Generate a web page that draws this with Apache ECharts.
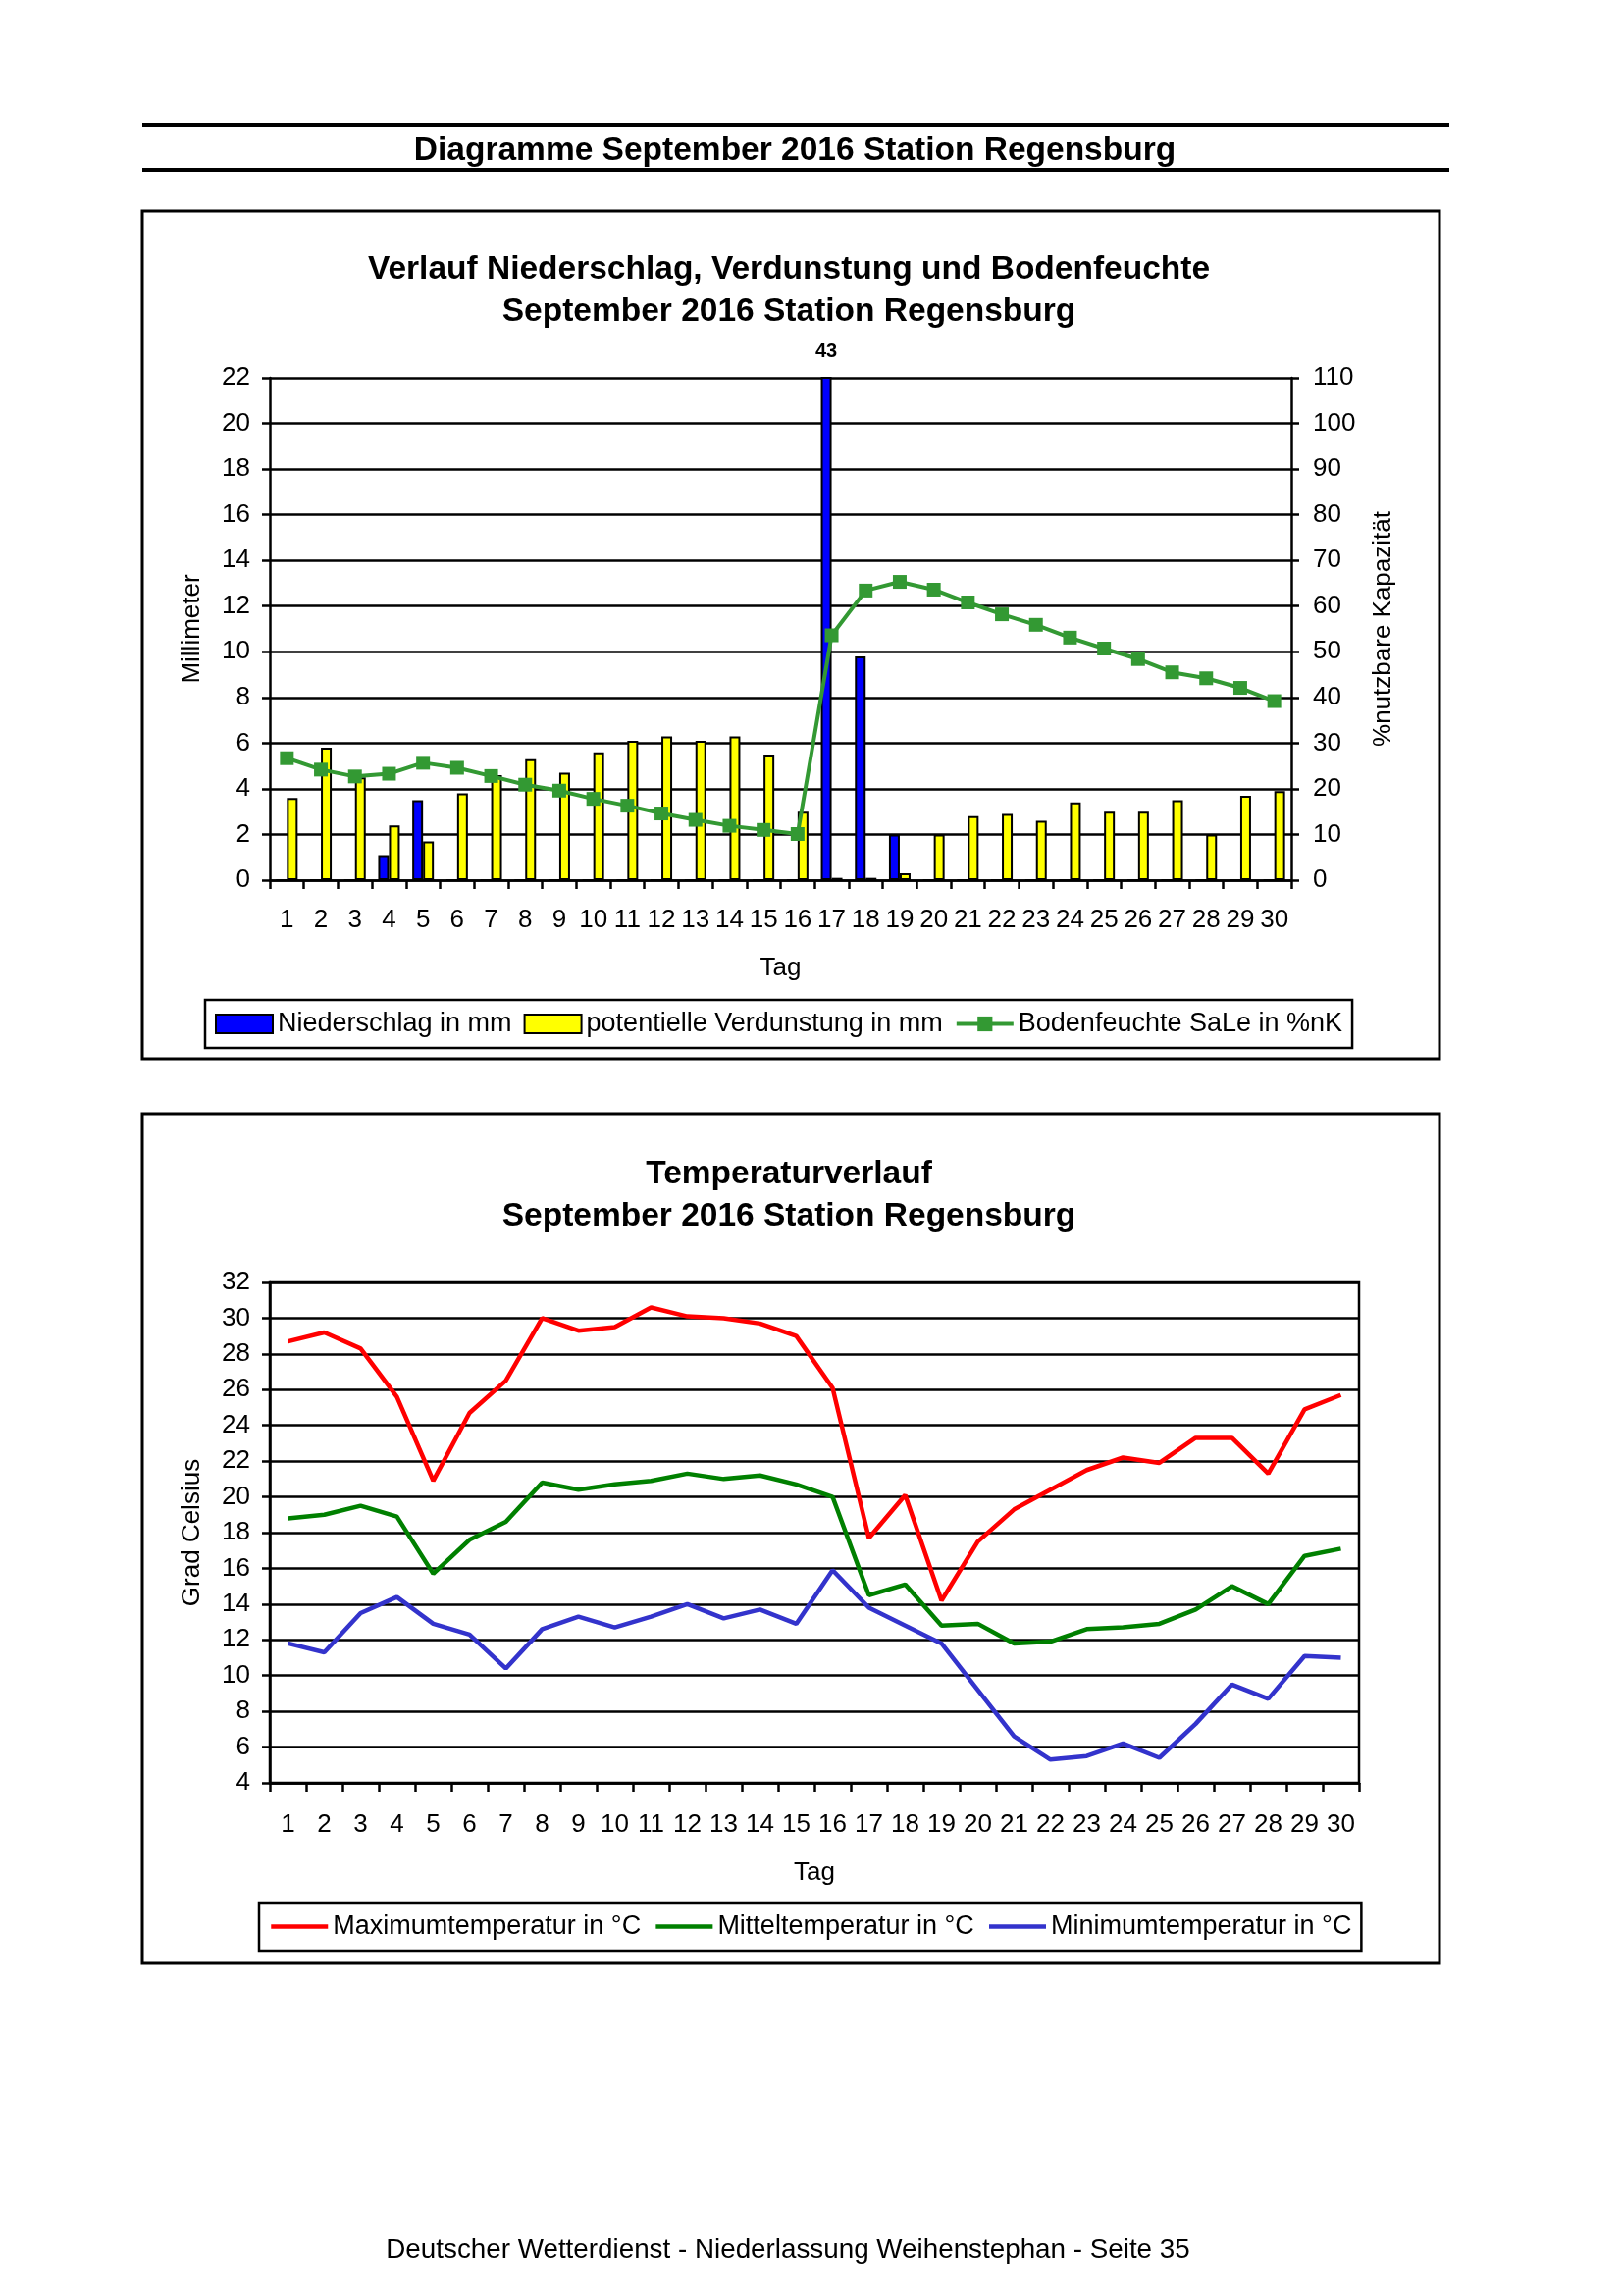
<!DOCTYPE html>
<html><head><meta charset="utf-8">
<script src="https://cdn.jsdelivr.net/npm/echarts@6/dist/echarts.min.js"></script>
<style>html,body{margin:0;padding:0;background:#fff}#c{width:1653px;height:2340px}</style>
</head><body><div id="c"></div>
<script>
const days = ['1','2','3','4','5','6','7','8','9','10','11','12','13','14','15','16','17','18','19','20','21','22','23','24','25','26','27','28','29','30'];
const precip = [0,0,0,1.1,3.5,0,0,0,0,0,0,0,0,0,0,0,43,9.8,2.0,0,0,0,0,0,0,0,0,0,0,0];
const evap = [3.6,5.8,4.5,2.4,1.7,3.8,4.6,5.3,4.7,5.6,6.1,6.3,6.1,6.3,5.5,3.0,0.1,0.1,0.3,2.0,2.8,2.9,2.6,3.4,3.0,3.0,3.5,2.0,3.7,3.9];
const soil = [26.7,24.2,22.7,23.3,25.7,24.6,22.8,20.9,19.6,17.8,16.3,14.6,13.2,11.9,11.0,10.1,53.6,63.4,65.3,63.6,60.8,58.2,55.9,53.1,50.7,48.4,45.5,44.2,42.1,39.2];
const tMax = [28.7,29.2,28.3,25.6,20.9,24.7,26.5,30.0,29.3,29.5,30.6,30.1,30.0,29.7,29.0,26.1,17.7,20.1,14.2,17.5,19.3,20.4,21.5,22.2,21.9,23.3,23.3,21.3,24.9,25.7];
const tMean = [18.8,19.0,19.5,18.9,15.7,17.6,18.6,20.8,20.4,20.7,20.9,21.3,21.0,21.2,20.7,20.0,14.5,15.1,12.8,12.9,11.8,11.9,12.6,12.7,12.9,13.7,15.0,14.0,16.7,17.1];
const tMin = [11.8,11.3,13.5,14.4,12.9,12.3,10.4,12.6,13.3,12.7,13.3,14.0,13.2,13.7,12.9,15.9,13.8,12.8,11.8,9.2,6.6,5.3,5.5,6.2,5.4,7.3,9.5,8.7,11.1,11.0];

const FF = "'Liberation Sans', Arial, sans-serif";
const txt = {color:'#000', fontFamily:FF, fontSize:26};
const chart = echarts.init(document.getElementById('c'), null, {renderer:'canvas'});

function gtext(text, x, y, size, bold){
  return {type:'text', style:{text, x, y, textAlign:'center', textVerticalAlign:'middle',
    font:(bold?'bold ':'')+size+'px '+FF, fill:'#000'}};
}
function gline(x1,y1,x2,y2,w){
  return {type:'line', shape:{x1,y1,x2,y2}, style:{stroke:'#000', lineWidth:w}};
}
function grect(x,y,w,h){
  return {type:'rect', shape:{x,y,width:w,height:h}, style:{fill:null, stroke:'#000', lineWidth:3}};
}
const precipMax = Math.max(...precip);
const axisLine = {show:true, lineStyle:{color:'#000', width:2.5}};
const tick = {show:true, length:8, lineStyle:{color:'#000', width:2.5}};
const split = {lineStyle:{color:'#000', width:2.5}};

const option = {
  animation:false,
  backgroundColor:'#fff',
  textStyle:{fontFamily:FF},
  graphic:[
    gline(145,127,1477,127,4),
    gline(145,173,1477,173,4),
    gtext('Diagramme September 2016 Station Regensburg',810,154,33.5,true),
    grect(145,215,1322,864),
    gtext('Verlauf Niederschlag, Verdunstung und Bodenfeuchte',804,275,33.5,true),
    gtext('September 2016 Station Regensburg',804,318,33.5,true),
    grect(145,1135,1322,866),
    gtext('Temperaturverlauf',804,1197,33.5,true),
    gtext('September 2016 Station Regensburg',804,1240,33.5,true),
    gtext('Deutscher Wetterdienst - Niederlassung Weihenstephan - Seite 35',803,2293,27.8,false)
  ],
  legend:[
    {left:209, top:1019, orient:'horizontal', itemWidth:58, itemHeight:19, itemGap:12,
     padding:[11,10], borderColor:'#000', borderWidth:2.5, textStyle:Object.assign({},txt,{fontSize:27}),
     lineStyle:{width:4},
     data:[{name:'Niederschlag in mm', icon:'rect'},{name:'potentielle Verdunstung in mm', icon:'rect'},'Bodenfeuchte SaLe in %nK']},
    {left:264, top:1939, orient:'horizontal', itemWidth:58, itemHeight:18, itemGap:13,
     padding:[11,10], borderColor:'#000', borderWidth:2.5, textStyle:Object.assign({},txt,{fontSize:27}),
     itemStyle:{opacity:0}, lineStyle:{width:4.5},
     data:['Maximumtemperatur in °C','Mitteltemperatur in °C','Minimumtemperatur in °C']}
  ],
  grid:[
    {left:275, right:337, top:385, height:512},
    {left:275, right:268, top:1307, height:510, show:true, borderColor:'#000', borderWidth:2.5}
  ],
  xAxis:[
    {type:'category', gridIndex:0, data:days, boundaryGap:true,
     axisLine:axisLine, axisTick:Object.assign({}, tick, {length:9}),
     axisLabel:Object.assign({}, txt, {margin:28, interval:0}),
     name:'Tag', nameLocation:'middle', nameGap:77, nameTextStyle:txt},
    {type:'category', gridIndex:1, data:days, boundaryGap:true,
     axisLine:axisLine, axisTick:Object.assign({}, tick, {length:9}),
     axisLabel:Object.assign({}, txt, {margin:30, interval:0}),
     name:'Tag', nameLocation:'middle', nameGap:79, nameTextStyle:txt}
  ],
  yAxis:[
    {type:'value', gridIndex:0, min:0, max:22, interval:2,
     axisLine:axisLine, axisTick:tick, splitLine:split, axisLabel:Object.assign({}, txt, {margin:20}),
     name:'Millimeter', nameLocation:'middle', nameGap:66, nameRotate:90, nameTextStyle:txt},
    {type:'value', gridIndex:0, position:'right', min:0, max:110, interval:10,
     axisLine:axisLine, axisTick:tick, splitLine:{show:false}, axisLabel:Object.assign({}, txt, {margin:22}),
     name:'%nutzbare Kapazität', nameLocation:'middle', nameGap:81, nameRotate:90, nameTextStyle:txt},
    {type:'value', gridIndex:1, min:4, max:32, interval:2,
     axisLine:axisLine, axisTick:tick, splitLine:split, axisLabel:Object.assign({}, txt, {margin:20}),
     name:'Grad Celsius', nameLocation:'middle', nameGap:66, nameRotate:90, nameTextStyle:txt}
  ],
  series:[
    {name:'Niederschlag in mm', type:'bar', xAxisIndex:0, yAxisIndex:0, data:precip, barWidth:11, barGap:'0%', clip:true,
     itemStyle:{color:'#0000FF', borderColor:'#000', borderWidth:2},
     markPoint:{symbol:'rect', symbolSize:1, itemStyle:{color:'rgba(0,0,0,0)'},
       label:{show:true, position:'top', distance:16, color:'#000', fontFamily:FF, fontWeight:'bold', fontSize:20, formatter:'{c}'},
       data:[{coord:[precip.indexOf(precipMax), 22], value:precipMax}]}},
    {name:'potentielle Verdunstung in mm', type:'bar', xAxisIndex:0, yAxisIndex:0, data:evap, barWidth:11, barGap:'0%',
     itemStyle:{color:'#FFFF00', borderColor:'#000', borderWidth:2}},
    {name:'Bodenfeuchte SaLe in %nK', type:'line', xAxisIndex:0, yAxisIndex:1, data:soil,
     symbol:'rect', symbolSize:14, lineStyle:{color:'#339933', width:4}, itemStyle:{color:'#339933'}, z:5},
    {name:'Maximumtemperatur in °C', type:'line', xAxisIndex:1, yAxisIndex:2, data:tMax, symbol:'none',
     lineStyle:{color:'#FF0000', width:4.5}, itemStyle:{color:'#FF0000'}},
    {name:'Mitteltemperatur in °C', type:'line', xAxisIndex:1, yAxisIndex:2, data:tMean, symbol:'none',
     lineStyle:{color:'#008000', width:4.5}, itemStyle:{color:'#008000'}},
    {name:'Minimumtemperatur in °C', type:'line', xAxisIndex:1, yAxisIndex:2, data:tMin, symbol:'none',
     lineStyle:{color:'#3333CC', width:4.5}, itemStyle:{color:'#3333CC'}}
  ]
};
chart.setOption(option);
</script></body></html>
